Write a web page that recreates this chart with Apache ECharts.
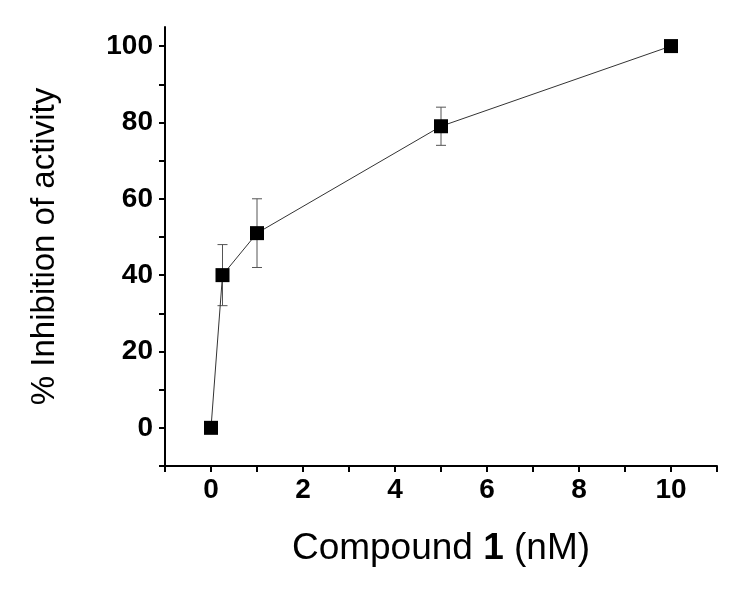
<!DOCTYPE html>
<html><head><meta charset="utf-8">
<script src="https://cdn.jsdelivr.net/npm/echarts@6/dist/echarts.min.js"></script>
<style>html,body{margin:0;padding:0;background:#fff}#c{width:750px;height:591px}</style>
</head><body><div id="c"></div>
<script>
const concentrations = [0, 0.25, 1, 5, 10];
const inhibition = [0, 40, 51, 79, 100];
const errLow = [null, 32, 42, 74, null];
const errHigh = [null, 48, 60, 84, null];
const xTickLabels = ['0', '2', '4', '6', '8', '10'];
const yTickLabels = ['0', '20', '40', '60', '80', '100'];

const chart = echarts.init(document.getElementById('c'));
const numFont = '"Liberation Sans Narrow", "Arial Narrow", "Liberation Sans", Arial, sans-serif';
const titleFont = '"Liberation Sans", Arial, sans-serif';
const errData = concentrations.map((c, i) => [c, errLow[i], errHigh[i]]).filter(d => d[1] !== null);

chart.setOption({
  animation: false,
  grid: {left: 165, right: 33, top: 27, bottom: 125, containLabel: false},
  xAxis: {
    type: 'value', min: -1, max: 11, interval: 1,
    axisLine: {onZero: false, lineStyle: {color: '#000', width: 2}},
    axisTick: {inside: false, length: 6, lineStyle: {color: '#000', width: 2}},
    splitLine: {show: false},
    axisLabel: {
      margin: 10, color: '#000', fontFamily: numFont, fontWeight: 'bold', fontSize: 28,
      formatter: v => xTickLabels.includes(String(v)) ? String(v) : ''
    },
    name: '{a|Compound }{b|1}{a| (nM)}', nameLocation: 'middle', nameGap: 64,
    nameTextStyle: {rich: {
      a: {fontFamily: titleFont, fontSize: 37, color: '#000'},
      b: {fontFamily: titleFont, fontSize: 37, fontWeight: 'bold', color: '#000'}
    }}
  },
  yAxis: {
    type: 'value', min: -10, max: 105, interval: 10,
    axisLine: {onZero: false, lineStyle: {color: '#000', width: 2}},
    axisTick: {inside: false, length: 6, lineStyle: {color: '#000', width: 2}},
    splitLine: {show: false},
    axisLabel: {
      margin: 12, color: '#000', fontFamily: numFont, fontWeight: 'bold', fontSize: 28,
      formatter: v => yTickLabels.includes(String(v)) ? String(v) : '',
      showMaxLabel: false
    },
    name: '% Inhibition of activity', nameLocation: 'middle', nameGap: 104, nameRotate: 90,
    nameTextStyle: {fontFamily: titleFont, fontSize: 33, color: '#000'}
  },
  series: [
    {
      type: 'line', data: concentrations.map((c, i) => [c, inhibition[i]]),
      symbol: 'rect', symbolSize: 14, showSymbol: true,
      lineStyle: {color: '#333', width: 1},
      itemStyle: {color: '#000'}, z: 3
    },
    {
      type: 'custom', data: errData, z: 2,
      renderItem: function (params, api) {
        const x = api.value(0);
        const lo = api.coord([x, api.value(1)]);
        const hi = api.coord([x, api.value(2)]);
        const w = 5;
        const st = {stroke: '#555', lineWidth: 1};
        return {type: 'group', children: [
          {type: 'line', shape: {x1: lo[0], y1: lo[1], x2: hi[0], y2: hi[1]}, style: st},
          {type: 'line', shape: {x1: lo[0] - w, y1: lo[1], x2: lo[0] + w, y2: lo[1]}, style: st},
          {type: 'line', shape: {x1: hi[0] - w, y1: hi[1], x2: hi[0] + w, y2: hi[1]}, style: st}
        ]};
      }
    }
  ]
});
</script></body></html>
